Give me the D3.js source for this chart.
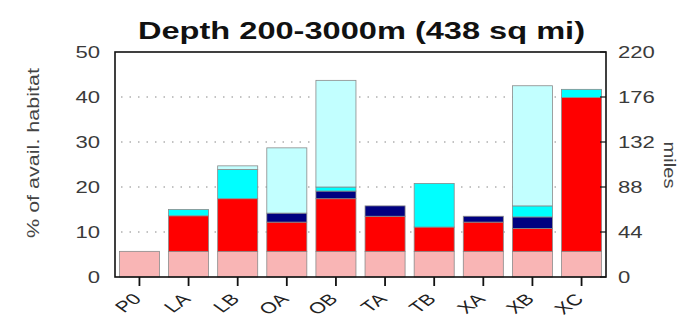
<!DOCTYPE html>
<html>
<head>
<meta charset="utf-8">
<script src="https://cdn.jsdelivr.net/npm/d3@7/dist/d3.min.js"></script>
<style>
  body { margin: 0; background: #fff; }
  text { font-family: "Liberation Sans", Arial, sans-serif; }
</style>
</head>
<body>
<div id="chart"></div>
<script>
const categories = ['P0', 'LA', 'LB', 'OA', 'OB', 'TA', 'TB', 'XA', 'XB', 'XC'];
// stacked segment heights (% of available habitat)
const baseVals  = [5.7, 5.7, 5.7, 5.7, 5.7, 5.7, 5.7, 5.7, 5.7, 5.7];
const redVals   = [0, 7.9, 11.7, 6.5, 11.7, 7.8, 5.4, 6.5, 5.1, 34.2];
const navyVals  = [0, 0, 0, 2.0, 1.7, 2.3, 0, 1.3, 2.55, 0];
const cyanVals  = [0, 1.4, 6.5, 0, 0.9, 0, 9.7, 0, 2.45, 1.8];
const lightVals = [0, 0, 0.8, 14.5, 23.7, 0, 0, 0, 26.7, 0];
const leftTicks = [0, 10, 20, 30, 40, 50];
const rightTicks = [0, 44, 88, 132, 176, 220];
const gridVals = [10, 20, 30, 40];

const series = [
  { key: 'base', vals: baseVals, color: '#f9b5b5' },
  { key: 'red', vals: redVals, color: '#ff0000' },
  { key: 'navy', vals: navyVals, color: '#000080' },
  { key: 'cyan', vals: cyanVals, color: '#00ffff' },
  { key: 'light', vals: lightVals, color: '#c2ffff' }
];

const width = 698, height = 320;
const margin = { top: 52, right: 92, bottom: 43, left: 115 };
const sx = 1.38; // horizontal stretch of the original picture's text

const rows = categories.map((c, i) => {
  const r = { cat: c };
  series.forEach(s => { r[s.key] = s.vals[i]; });
  return r;
});
const stacked = d3.stack().keys(series.map(s => s.key))(rows);

const svg = d3.select('#chart').append('svg')
  .attr('width', width)
  .attr('height', height);

const x = d3.scaleBand().domain(categories)
  .range([margin.left, width - margin.right])
  .paddingInner(0.185).paddingOuter(0.09);
const y = d3.scaleLinear().domain([0, 50]).range([height - margin.bottom, margin.top]);
const y2 = d3.scaleLinear().domain([0, 220]).range([height - margin.bottom, margin.top]);

// dotted grid lines
svg.append('g').attr('class', 'grid')
  .selectAll('line').data(gridVals).enter().append('line')
  .attr('x1', margin.left + 6).attr('x2', width - margin.right - 4)
  .attr('y1', d => y(d)).attr('y2', d => y(d))
  .attr('stroke', '#888').attr('stroke-width', 1.2)
  .attr('stroke-dasharray', '1.5,7');

// bars
svg.append('g').attr('class', 'bars')
  .selectAll('g').data(stacked).enter().append('g')
  .attr('fill', (d, i) => series[i].color)
  .selectAll('rect').data(d => d.filter(p => p[1] - p[0] > 0)).enter().append('rect')
  .attr('x', d => x(d.data.cat))
  .attr('width', x.bandwidth())
  .attr('y', d => y(d[1]))
  .attr('height', d => y(d[0]) - y(d[1]))
  .attr('stroke', '#8a8a8a')
  .attr('stroke-width', 0.8);

// plot frame
svg.append('rect')
  .attr('x', margin.left).attr('y', margin.top)
  .attr('width', width - margin.left - margin.right)
  .attr('height', height - margin.top - margin.bottom)
  .attr('fill', 'none').attr('stroke', '#111').attr('stroke-width', 1.6);

// bottom ticks + rotated labels
const bottom = height - margin.bottom;
svg.append('g').selectAll('line').data(categories).enter().append('line')
  .attr('x1', d => x(d) + x.bandwidth() / 2).attr('x2', d => x(d) + x.bandwidth() / 2)
  .attr('y1', bottom).attr('y2', bottom + 9)
  .attr('stroke', '#111').attr('stroke-width', 1.8);
svg.append('g').selectAll('text').data(categories).enter().append('text')
  .attr('transform', d => `translate(${x(d) + x.bandwidth() / 2 + 3},${bottom + 23}) scale(${sx},1) rotate(-45)`)
  .attr('text-anchor', 'end')
  .attr('font-size', 15.5)
  .attr('fill', '#222')
  .text(d => d);

// left tick labels
svg.append('g').selectAll('text').data(leftTicks).enter().append('text')
  .attr('transform', d => `translate(100,${y(d)}) scale(${sx},1)`)
  .attr('dy', '0.36em')
  .attr('text-anchor', 'end')
  .attr('font-size', 16)
  .attr('fill', '#3a3a3a')
  .text(d => d);

// right axis: inward ticks + labels
const right = width - margin.right;
svg.append('g').selectAll('line').data(rightTicks).enter().append('line')
  .attr('x1', right).attr('x2', right - 6)
  .attr('y1', d => y2(d)).attr('y2', d => y2(d))
  .attr('stroke', '#111').attr('stroke-width', 1.2);
svg.append('g').selectAll('text').data(rightTicks).enter().append('text')
  .attr('transform', d => `translate(618,${y2(d)}) scale(${sx},1)`)
  .attr('dy', '0.36em')
  .attr('text-anchor', 'start')
  .attr('font-size', 16)
  .attr('fill', '#3a3a3a')
  .text(d => d);

// axis titles
svg.append('text')
  .attr('transform', `translate(39,153) scale(1.2,1) rotate(-90)`)
  .attr('text-anchor', 'middle')
  .attr('font-size', 14)
  .attr('textLength', 170)
  .attr('lengthAdjust', 'spacingAndGlyphs')
  .attr('fill', '#444')
  .text('% of avail. habitat');

svg.append('text')
  .attr('transform', `translate(664,165) scale(1.2,1) rotate(90)`)
  .attr('text-anchor', 'middle')
  .attr('font-size', 14)
  .attr('textLength', 47)
  .attr('lengthAdjust', 'spacingAndGlyphs')
  .attr('fill', '#444')
  .text('miles');

// title
svg.append('text')
  .attr('x', 361.5).attr('y', 39)
  .attr('text-anchor', 'middle')
  .attr('font-size', 23)
  .attr('font-weight', 'bold')
  .attr('textLength', 447)
  .attr('lengthAdjust', 'spacingAndGlyphs')
  .attr('fill', '#111')
  .text('Depth 200-3000m (438 sq mi)');
</script>
</body>
</html>
